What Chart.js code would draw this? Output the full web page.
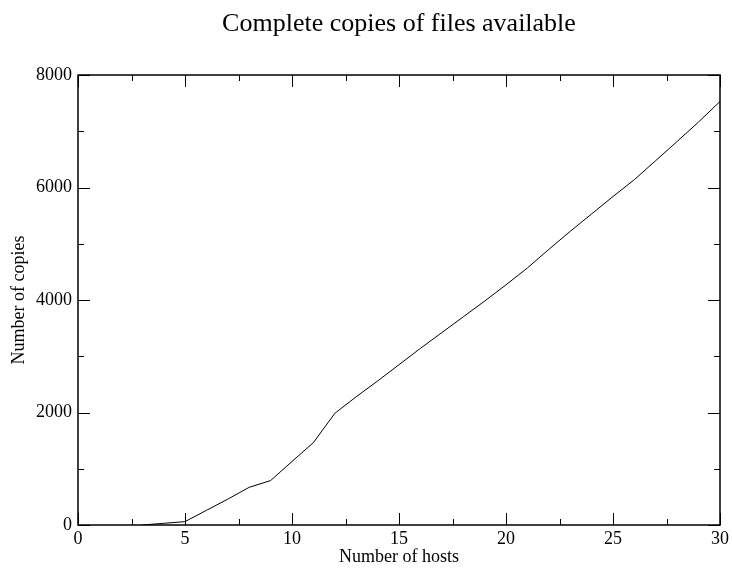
<!DOCTYPE html>
<html>
<head>
<meta charset="utf-8">
<script src="https://cdn.jsdelivr.net/npm/chart.js@4/dist/chart.umd.min.js"></script>
<style>
  html, body { margin: 0; padding: 0; background: #fff; }
  canvas { display: block; }
</style>
</head>
<body>
<canvas id="c" width="732" height="570"></canvas>
<script>
// Number of hosts in the network
const hosts = [3, 4, 5, 6, 7, 8, 9, 10, 11, 12, 13, 14, 15, 16, 17, 18, 19, 20,
               21, 22, 23, 24, 25, 26, 27, 28, 29, 30];
// Complete copies of files available for each host count
const copies = [0, 30, 60, 260, 460, 670, 790, 1130, 1465, 1985, 2280, 2560, 2850,
                3140, 3420, 3700, 3980, 4270, 4570, 4900, 5220, 5530, 5840, 6140,
                6480, 6820, 7165, 7530];
// Axis ticks
const xTicks = [0, 5, 10, 15, 20, 25, 30];
const yTicks = [0, 2000, 4000, 6000, 8000];
const chartTitle = 'Complete copies of files available';

const SERIF = '"Liberation Serif", "Times New Roman", serif';

// Title centred over the plotting area
const plotTitle = {
  id: 'plotTitle',
  afterDraw(chart) {
    const { ctx, chartArea: a } = chart;
    ctx.save();
    ctx.fillStyle = '#000';
    ctx.font = '26px ' + SERIF;
    ctx.textAlign = 'center';
    ctx.textBaseline = 'alphabetic';
    ctx.fillText(chartTitle, (a.left + a.right) / 2, 31);
    ctx.restore();
  }
};

// Frame with inward major/minor ticks on all four sides
const frameTicks = {
  id: 'frameTicks',
  afterDatasetsDraw(chart) {
    const { ctx, chartArea: a, scales: { x, y } } = chart;
    const major = 12, minor = 6;
    ctx.save();
    ctx.strokeStyle = '#000';
    ctx.lineWidth = 1;
    ctx.beginPath();
    for (let i = 0; i < xTicks.length; i++) {
      const v = xTicks[i];
      const px = Math.round(x.getPixelForValue(v)) + 0.5;
      ctx.moveTo(px, a.bottom); ctx.lineTo(px, a.bottom - major);
      ctx.moveTo(px, a.top); ctx.lineTo(px, a.top + major);
      if (i < xTicks.length - 1) {
        const m = Math.round(x.getPixelForValue((v + xTicks[i + 1]) / 2)) + 0.5;
        ctx.moveTo(m, a.bottom); ctx.lineTo(m, a.bottom - minor);
        ctx.moveTo(m, a.top); ctx.lineTo(m, a.top + minor);
      }
    }
    for (let i = 0; i < yTicks.length; i++) {
      const v = yTicks[i];
      const py = Math.round(y.getPixelForValue(v)) + 0.5;
      ctx.moveTo(a.left, py); ctx.lineTo(a.left + major, py);
      ctx.moveTo(a.right, py); ctx.lineTo(a.right - major, py);
      if (i < yTicks.length - 1) {
        const m = Math.round(y.getPixelForValue((v + yTicks[i + 1]) / 2)) + 0.5;
        ctx.moveTo(a.left, m); ctx.lineTo(a.left + minor, m);
        ctx.moveTo(a.right, m); ctx.lineTo(a.right - minor, m);
      }
    }
    ctx.stroke();
    ctx.lineWidth = 1.5;
    ctx.strokeRect(a.left, a.top, a.right - a.left, a.bottom - a.top);
    ctx.restore();
  }
};

new Chart(document.getElementById('c'), {
  type: 'line',
  data: {
    datasets: [{
      data: hosts.map((h, i) => ({ x: h, y: copies[i] })),
      borderColor: '#000',
      borderWidth: 1,
      pointRadius: 0,
      tension: 0,
      fill: false
    }]
  },
  options: {
    responsive: false,
    animation: false,
    events: [],
    layout: { padding: { left: 0, right: 12, top: 75, bottom: 0 } },
    plugins: {
      legend: { display: false },
      tooltip: { enabled: false },
      title: { display: false }
    },
    scales: {
      x: {
        type: 'linear',
        min: 0, max: 30,
        afterFit(s) { s.height = 45; },
        afterBuildTicks(s) { s.ticks = xTicks.map(v => ({ value: v })); },
        grid: { display: false, drawTicks: false },
        border: { display: false },
        ticks: { color: '#000', padding: 3, maxRotation: 0, autoSkip: false,
                 callback: v => String(v),
                 font: { family: SERIF, size: 18 } },
        title: { display: true, text: 'Number of hosts', color: '#000',
                 font: { family: SERIF, size: 18 }, padding: { top: 0, bottom: 2 } }
      },
      y: {
        type: 'linear',
        min: 0, max: 8000,
        afterFit(s) { s.width = 78; },
        afterBuildTicks(s) { s.ticks = yTicks.map(v => ({ value: v })); },
        grid: { display: false, drawTicks: false },
        border: { display: false },
        ticks: { color: '#000', padding: 6, autoSkip: false,
                 callback: v => String(v),
                 font: { family: SERIF, size: 18 } },
        title: { display: true, text: 'Number of copies', color: '#000',
                 font: { family: SERIF, size: 18 }, padding: { top: 8, bottom: 0 } }
      }
    }
  },
  plugins: [frameTicks, plotTitle]
});
</script>
</body>
</html>
